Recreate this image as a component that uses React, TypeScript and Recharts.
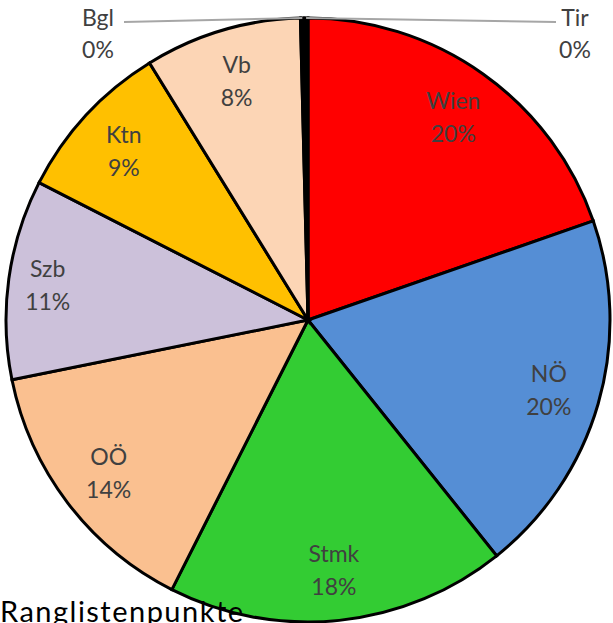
import { Cell, Pie, PieChart } from "recharts";

const regions = ["Wien", "NÖ", "Stmk", "OÖ", "Szb", "Ktn", "Vb", "Bgl", "Tir"];
const shares = [19.7, 19.6, 18.2, 14.4, 10.7, 8.7, 8.4, 0.2, 0.2];
const colors = ["#FF0000", "#558ED5", "#33CC33", "#FAC090", "#CCC1DA", "#FFC000", "#FCD5B5", "#000000", "#000000"];

const data = regions.map((name, i) => ({ name, value: shares[i] }));

const RADIAN = Math.PI / 180;
const labelColor = "#404040";
const labelFont = "Lato, sans-serif";

// tiny slices get their label pushed out to the side with a leader line
const outside: Record<string, { x: number; y: number; lineX: number }> = {
  Bgl: { x: 98, y: 33, lineX: 124 },
  Tir: { x: 575, y: 33, lineX: 556 },
};

function renderLabel(props: any) {
  const { cx, cy, midAngle, outerRadius, percent, name } = props;
  const pct = `${Math.round(percent * 100)}%`;
  const out = outside[name];
  if (out) {
    const ex = cx + outerRadius * Math.cos(-midAngle * RADIAN);
    const ey = cy + outerRadius * Math.sin(-midAngle * RADIAN);
    return (
      <g>
        <line x1={out.lineX} y1={22} x2={ex} y2={ey} stroke="#A6A6A6" strokeWidth={2} />
        <text x={out.x} y={out.y - 16} textAnchor="middle" dominantBaseline="central" fill={labelColor} fontSize={23} fontFamily={labelFont}>
          {name}
        </text>
        <text x={out.x} y={out.y + 16} textAnchor="middle" dominantBaseline="central" fill={labelColor} fontSize={23} fontFamily={labelFont}>
          {pct}
        </text>
      </g>
    );
  }
  const r = outerRadius * (name === "Szb" ? 0.87 : 0.83);
  const x = cx + r * Math.cos(-midAngle * RADIAN);
  const y = cy + r * Math.sin(-midAngle * RADIAN);
  return (
    <g>
      <text x={x} y={y - 16} textAnchor="middle" dominantBaseline="central" fill={labelColor} fontSize={23} fontFamily={labelFont}>
        {name}
      </text>
      <text x={x} y={y + 17} textAnchor="middle" dominantBaseline="central" fill={labelColor} fontSize={23} fontFamily={labelFont}>
        {pct}
      </text>
    </g>
  );
}

export default function App() {
  return (
    <div style={{ position: "absolute", left: 0, top: 0, width: 613, height: 623, background: "#fff", overflow: "hidden" }}>
      <PieChart width={613} height={623} margin={{ top: 0, right: 0, bottom: 0, left: 0 }}>
        <Pie
          data={data}
          dataKey="value"
          nameKey="name"
          cx={308}
          cy={320}
          outerRadius={302}
          startAngle={90}
          endAngle={-270}
          stroke="#000"
          strokeWidth={3}
          label={renderLabel}
          labelLine={false}
          isAnimationActive={false}
        >
          {data.map((d, i) => (
            <Cell key={d.name} fill={colors[i]} />
          ))}
        </Pie>
      </PieChart>
      <svg width={613} height={623} style={{ position: "absolute", left: 0, top: 0, pointerEvents: "none" }}>
        <text x={0} y={622} fontSize={29} fill="#000" fontFamily={labelFont} textLength={243}>
          Ranglistenpunkte
        </text>
      </svg>
    </div>
  );
}
